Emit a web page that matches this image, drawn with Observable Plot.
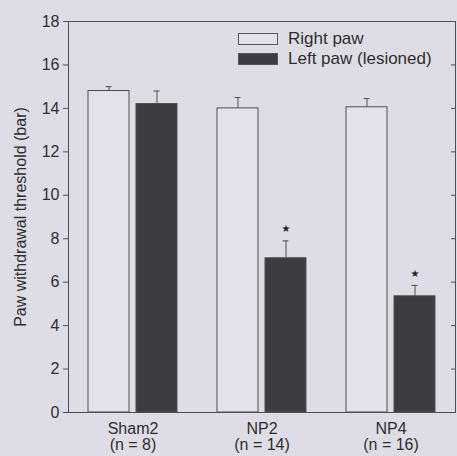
<!DOCTYPE html>
<html>
<head>
<meta charset="utf-8">
<script src="https://cdn.jsdelivr.net/npm/d3@7"></script>
<script src="https://cdn.jsdelivr.net/npm/@observablehq/plot@0.6"></script>
<style>
  html, body { margin: 0; padding: 0; background: #dedde6; }
  #wrap { position: relative; width: 457px; height: 456px; overflow: hidden; font-family: "Liberation Sans", Arial, sans-serif; }
  .legend { position: absolute; left: 238px; top: 29px; font-size: 17px; color: #2e2e2e; }
  .legend .row { display: flex; align-items: center; height: 20px; }
  .legend .sw { width: 38px; height: 10px; border: 1px solid #555; margin-right: 10px; box-sizing: content-box; }
</style>
</head>
<body>
<div id="wrap"></div>
<script>
const groups = ["Sham2", "NP2", "NP4"];
const nLabels = ["(n = 8)", "(n = 14)", "(n = 16)"];
const seriesNames = ["Right paw", "Left paw (lesioned)"];
const rightPaw = [14.8, 14.0, 14.05];
const rightErr = [0.2, 0.5, 0.4];
const leftPaw = [14.2, 7.1, 5.35];
const leftErr = [0.6, 0.8, 0.5];
const significant = [false, true, true];
const yTicks = [0, 2, 4, 6, 8, 10, 12, 14, 16, 18];
const seriesColors = ["#e3e2ea", "#3d3c42"];

const data = [];
groups.forEach((g, i) => {
  data.push({group: g, series: seriesNames[0], value: rightPaw[i], err: rightErr[i], sig: false});
  data.push({group: g, series: seriesNames[1], value: leftPaw[i], err: leftErr[i], sig: significant[i]});
});

const lineColor = "#4e4e54";

const chart = Plot.plot({
  width: 457,
  height: 456,
  marginLeft: 67,
  marginRight: 1,
  marginTop: 21,
  marginBottom: 44,
  style: {background: "transparent", fontFamily: "Liberation Sans, Arial, sans-serif", fontSize: "16px", color: "#2e2e2e"},
  fx: {domain: groups, padding: 0, label: null},
  x: {domain: seriesNames, paddingInner: 0.143, paddingOuter: 0.395, axis: null},
  y: {domain: [0, 18]},
  color: {domain: seriesNames, range: seriesColors},
  marks: [
    Plot.barY(data, {fx: "group", x: "series", y: "value", fill: "series", stroke: lineColor, strokeWidth: 1}),
    Plot.ruleX(data, {fx: "group", x: "series", y1: "value", y2: d => d.value + d.err, stroke: lineColor, strokeWidth: 1}),
    Plot.tickY(data, {fx: "group", x: "series", y: d => d.value + d.err, stroke: lineColor, strokeWidth: 1, insetLeft: 17.5, insetRight: 17.5}),
    Plot.text(data.filter(d => d.sig), {fx: "group", x: "series", y: d => d.value + d.err, text: () => "★", dy: -12, fontSize: 10, fontFamily: "DejaVu Sans", fill: "#222"}),
    Plot.axisY({anchor: "left", ticks: yTicks, tickSize: 5, tickPadding: 4, fontSize: 16, label: "Paw withdrawal threshold (bar)", labelAnchor: "center", labelOffset: 54, labelArrow: "none", stroke: lineColor}),
    Plot.axisY({anchor: "right", ticks: yTicks, tickSize: 5, dx: -5, tickFormat: () => "", label: null, stroke: lineColor}),
    Plot.axisFx({anchor: "bottom", tickSize: 0, tickPadding: 10, fontSize: 16, label: null, lineHeight: 1.0, tickFormat: d => d + "\n" + nLabels[groups.indexOf(d)]}),
    Plot.frame({anchor: "top", stroke: lineColor}),
    Plot.frame({anchor: "bottom", stroke: lineColor}),
    Plot.frame({anchor: "left", facetAnchor: "left", stroke: lineColor}),
    Plot.frame({anchor: "right", facetAnchor: "right", stroke: lineColor})
  ]
});

const wrap = document.getElementById("wrap");
wrap.appendChild(chart);

const legend = document.createElement("div");
legend.className = "legend";
seriesNames.forEach((name, i) => {
  const row = document.createElement("div");
  row.className = "row";
  const sw = document.createElement("div");
  sw.className = "sw";
  sw.style.background = seriesColors[i];
  const label = document.createElement("span");
  label.textContent = name;
  row.appendChild(sw);
  row.appendChild(label);
  legend.appendChild(row);
});
wrap.appendChild(legend);
</script>
</body>
</html>
